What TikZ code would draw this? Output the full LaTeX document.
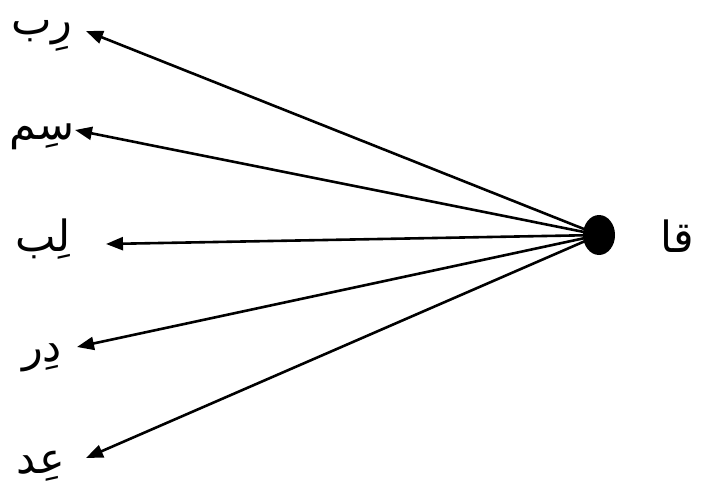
\documentclass[tikz,border=0pt]{standalone}
\usepackage{fontspec}
\newfontfamily\arabicfont[Script=Arabic]{DejaVu Sans}
\TeXXeTstate=1
\usetikzlibrary{arrows.meta, shapes.geometric}
\begin{document}
\begin{tikzpicture}[x=1pt, y=-1pt,
  every node/.style={font=\arabicfont\fontsize{43}{50}\selectfont, inner sep=0pt, anchor=base},
  arrowline/.style={-{Triangle[length=17pt, width=13pt]}, line width=2.6pt}]
  \useasboundingbox (0,0) rectangle (708,492);
  % Centre point and its label
  \node[ellipse, fill, minimum width=32pt, minimum height=40pt, anchor=center] (qa) at (599,235) {};
  \node (qalab) at (677,252) {\beginR قا\endR};

  % Labels on the left
  \node (rib) at (42,35) {\beginR رِب\endR};
  \node (sim) at (42,139) {\beginR سِم\endR};
  \node (lib) at (43,251) {\beginR لِب\endR};
  \node (dir) at (42,361) {\beginR دِر\endR};
  \node (aid) at (41,473) {\beginR عِد\endR};

  % Arrow tips
  \coordinate (trib) at (86,31);
  \coordinate (tsim) at (75,130);
  \coordinate (tlib) at (106,244);
  \coordinate (tdir) at (77,347);
  \coordinate (taid) at (86,458);

  % Arrows
  \draw[arrowline] (qa.center) -- (trib);
  \draw[arrowline] (qa.center) -- (tsim);
  \draw[arrowline] (qa.center) -- (tlib);
  \draw[arrowline] (qa.center) -- (tdir);
  \draw[arrowline] (qa.center) -- (taid);
\end{tikzpicture}
\end{document}
